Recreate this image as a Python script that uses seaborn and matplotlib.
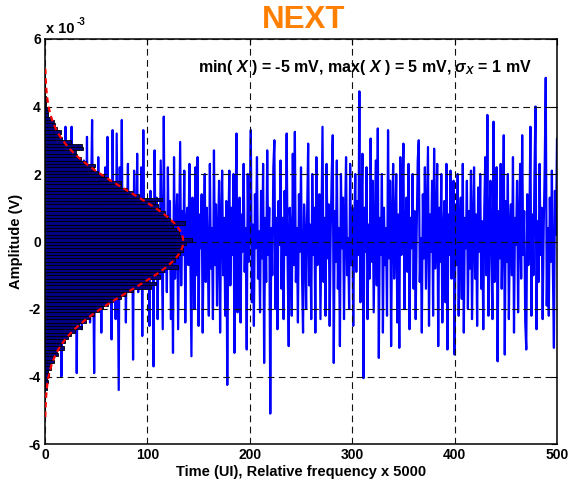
import numpy as np
import pandas as pd
import matplotlib
matplotlib.use("Agg")
import matplotlib.pyplot as plt
import seaborn as sns

# ---------------- data ----------------
# Noise signal, in mV, one value per UI (500 samples)
signal_mv = [
    0.4, -1.2, 2.3, -0.5, 0.9, -2.6, 0.7, 1.3, -0.8, 2.4,
    -0.2, -2.2, 1.1, 0.3, 2.6, -4.0, 0.8, -1.0, 0.5, 3.4,
    -1.2, 0.4, -2.8, 1.4, -0.6, 3.4, -0.9, 0.6, -2.3, 1.2,
    -3.9, 0.2, 2.2, -0.7, 1.0, -2.6, 0.4, 2.4, -1.4, -0.1,
    3.1, -1.1, 0.6, -2.4, 1.4, 3.6, -0.5, -3.9, 0.9, 0.1,
    -0.9, 2.5, -0.4, 0.7, -2.7, 0.3, 1.5, -1.3, 2.2, -0.6,
    3.1, -1.6, 0.5, 1.2, -2.9, 3.3, -0.3, 0.9, -2.3, 3.2,
    -0.7, -4.4, 2.2, -0.4, 3.6, -1.4, 0.2, 1.0, -2.4, 0.6,
    2.3, -1.0, 0.4, -0.1, 1.3, -3.5, 2.1, 0.2, -1.2, 2.6,
    -1.5, 0.8, -0.5, 2.2, -2.8, 3.3, -0.8, 0.6, -1.4, 1.0,
    0.1, -2.5, 1.5, -0.7, 1.1, -3.7, 2.7, -0.3, 1.3, -2.3,
    0.7, -1.0, 2.4, -0.1, -2.6, 3.7, -0.9, 0.7, -1.5, 2.2,
    -0.4, 1.2, -2.3, 0.3, -3.3, 2.5, -1.1, 0.5, 1.4, -2.6,
    0.2, 2.95, -1.3, 0.9, -0.4, 2.1, -2.4, 0.6, 1.0, -0.7,
    2.3, -0.6, -3.4, 1.3, 0.1, -2.0, 2.2, -1.0, 2.5, -2.5,
    0.8, -0.2, 1.4, -2.7, 0.4, 2.0, -1.2, 1.0, -0.5, -2.2,
    2.3, -0.8, 0.4, -2.3, 2.7, -0.7, 1.1, -1.9, 0.2, 1.8,
    -2.7, 0.6, 2.1, -1.0, 0.7, -2.2, 1.2, -4.25, 0.3, 2.1,
    -1.3, 1.0, -0.4, 2.0, -3.3, 0.7, 3.2, -2.1, 0.1, 1.3,
    -2.4, 0.8, -0.3, 2.3, -0.9, 0.4, -3.2, 2.0, -0.6, 1.1,
    3.3, -1.8, 0.5, -2.5, 1.4, -0.2, 2.5, -1.1, 0.3, -2.1,
    1.5, -0.5, 2.3, -3.6, 0.7, -1.2, 2.7, -0.4, 1.0, -5.1,
    0.4, -1.0, 2.2, 3.0, -2.0, 0.7, -2.6, 1.2, -0.1, 2.4,
    -1.4, 0.7, -2.3, 1.5, -0.4, 3.2, -0.8, -3.1, 1.0, 0.2,
    -2.2, 2.6, -0.7, 3.25, -1.2, 0.4, -2.4, 1.4, -0.3, 2.2,
    -1.0, -2.7, 1.1, 0.2, -2.0, 0.8, 2.9, -1.3, 0.5, -2.3,
    2.0, -0.4, 1.0, -2.7, 2.5, -0.7, 0.2, 1.4, -2.3, 0.6,
    3.4, -1.2, 0.7, -2.2, 2.3, -0.5, 1.1, -2.5, 0.3, 2.0,
    3.15, -3.6, 0.9, -0.6, 2.4, -1.4, 0.4, -3.1, 2.0, -0.2,
    1.3, -2.3, 0.6, 2.5, -1.0, 0.1, -2.0, 2.3, -0.7, 1.0,
    -2.5, 0.4, 2.0, -0.9, 1.2, -0.4, 4.45, -1.8, 0.7, 2.6,
    -4.05, 1.0, -0.3, 2.2, -2.3, 0.5, -1.1, 3.05, -0.6, 1.8,
    -2.1, 0.2, 2.4, -1.3, 3.35, -3.45, 0.7, -0.4, 2.0, -2.7,
    1.0, -0.7, 0.4, -2.2, 3.3, -0.5, 1.8, -3.1, 0.6, 2.3,
    -1.1, 0.2, 2.0, -2.4, 0.8, -3.15, 2.5, -0.4, 1.0, 2.9,
    -2.0, 0.3, 1.3, -0.9, 2.3, -2.6, 0.7, -0.2, 2.0, -1.4,
    0.9, -2.3, 0.4, 2.4, 3.0, -1.2, 0.1, -2.7, 1.4, -0.5,
    2.2, -1.4, 0.6, 2.8, -2.5, 0.8, -0.3, 1.8, -2.2, 2.75,
    -0.8, 0.4, 2.3, -3.1, 1.0, -0.6, 2.0, -2.4, 0.2, 1.2,
    -1.8, 2.3, -3.2, 0.8, -0.4, 2.1, -1.1, 0.5, 1.8, -3.35,
    1.1, -0.7, 2.0, -2.2, 0.3, 1.3, -1.7, 2.3, -2.7, 0.7,
    -0.2, 1.8, -2.0, 0.9, -0.8, 2.1, -2.3, 0.4, 2.2, -1.1,
    0.8, -2.5, 1.6, -0.3, 2.0, -1.4, 0.6, -2.6, 1.0, 2.5,
    -1.0, 3.75, -2.2, 0.4, 1.8, -0.7, -2.3, 3.55, -1.2, 0.7,
    2.2, -3.55, 0.9, -0.5, 2.3, -1.4, 0.3, 3.15, -3.35, 1.2,
    -0.6, 2.0, -2.3, 0.4, 1.1, -1.0, 2.5, -2.7, 0.7, -0.1,
    1.8, -2.1, 0.5, 2.3, -1.1, 3.15, -0.4, 0.9, -2.4, -3.2,
    1.4, -0.7, 0.3, 3.4, -2.2, 0.8, -1.0, 2.0, 4.0, -2.6,
    0.6, -1.2, 2.3, -0.4, 1.0, -2.3, 0.4, 2.2, 4.85, -1.9,
    0.4, -2.2, 1.3, -0.6, 2.1, -0.9, -3.15, 1.5, 0.2, 3.05,
]

# Histogram (relative frequency x 5000), bins of 0.1 mV from -5 to 5 mV
hist_edges_mv = [round(-5.0 + 0.1 * k, 1) for k in range(101)]
hist_heights = [
    0, 0, 0, 0, 1, 0, 2, 1, 3, 2,
    4, 3, 6, 5, 9, 8, 13, 12, 19, 16,
    20, 22, 25, 29, 36, 33, 40, 44, 48, 53,
    57, 62, 66, 74, 79, 86, 104, 108, 101, 112,
    110, 116, 130, 124, 127, 130, 132, 135, 133, 138,
    144, 132, 131, 128, 125, 137, 122, 120, 117, 112,
    110, 107, 114, 92, 86, 80, 74, 74, 62, 58,
    52, 48, 49, 40, 35, 31, 30, 37, 36, 25,
    17, 15, 16, 12, 10, 9, 5, 3, 3, 2,
    1, 1, 1, 0, 0, 0, 0, 0, 0, 0,
]

# Gaussian fit drawn over the histogram
fit_peak = 135.0
fit_sigma_mv = 1.48
fit_range_mv = 5.2

x_ticks = [0, 100, 200, 300, 400, 500]
y_ticks_mv = [-6, -4, -2, 0, 2, 4, 6]

title_text = "NEXT"
x_label = "Time (UI), Relative frequency x 5000"
y_label = "Amplitude (V)"
note_text = r"min( $X$ ) = -5 mV, max( $X$ ) = 5 mV, $\sigma_X$ = 1 mV"

# ---------------- style ----------------
sns.set_style("white")
plt.rcParams["font.family"] = ["Liberation Sans", "DejaVu Sans"]
plt.rcParams["font.weight"] = "bold"
plt.rcParams["text.color"] = "black"
plt.rcParams["axes.labelcolor"] = "black"
plt.rcParams["xtick.color"] = "black"
plt.rcParams["ytick.color"] = "black"
plt.rcParams["mathtext.fontset"] = "custom"
plt.rcParams["mathtext.rm"] = "Liberation Sans:bold"
plt.rcParams["mathtext.bf"] = "Liberation Sans:bold"
plt.rcParams["mathtext.it"] = "Liberation Sans:italic:bold"
plt.rcParams["mathtext.sf"] = "Liberation Sans:bold"

W, H = 571, 484
fig = plt.figure(figsize=(W / 100, H / 100), dpi=100)
ax_l, ax_r, ax_t, ax_b = 45, 557, 39, 444
ax = fig.add_axes([ax_l / W, 1 - ax_b / H, (ax_r - ax_l) / W, (ax_b - ax_t) / H])

# signal
df_sig = pd.DataFrame({"t": np.arange(1, len(signal_mv) + 1),
                       "v": np.array(signal_mv) * 1e-3})
sns.lineplot(data=df_sig, x="t", y="v", color="#0000FF", linewidth=1.6,
             ax=ax, zorder=2)

# histogram (horizontal)
edges = [e * 1e-3 for e in hist_edges_mv]
df_hist = pd.DataFrame({
    "c": [(hist_edges_mv[k] + hist_edges_mv[k + 1]) / 2 * 1e-3
          for k in range(len(hist_heights))],
    "w": [float(h) for h in hist_heights],
})
sns.histplot(data=df_hist, y="c", weights="w", bins=edges,
             color="#000080", edgecolor="black", linewidth=0.6, alpha=1.0,
             ax=ax, zorder=3)

# gaussian fit
y_fit = np.linspace(-fit_range_mv, fit_range_mv, 400)
x_fit = fit_peak * np.exp(-y_fit ** 2 / (2 * fit_sigma_mv ** 2))
df_fit = pd.DataFrame({"x": x_fit, "y": y_fit * 1e-3})
sns.lineplot(data=df_fit, x="x", y="y", sort=False, estimator=None,
             color="#FF0000", linewidth=1.6, linestyle=(0, (2.5, 1.8)),
             ax=ax, zorder=4)

# axes
ax.set_xlim(0, 500)
ax.set_ylim(-6e-3, 6e-3)
ax.set_xticks(x_ticks)
ax.set_xticklabels([str(v) for v in x_ticks])
ax.set_yticks([v * 1e-3 for v in y_ticks_mv])
ax.set_yticklabels([str(v) for v in y_ticks_mv])
ax.tick_params(axis="both", which="both", direction="in", length=4,
               width=0.8, labelsize=10, top=True, right=True, pad=3,
               colors="black", labelcolor="black")
for lab in ax.get_xticklabels() + ax.get_yticklabels():
    lab.set_fontweight("bold")
    lab.set_color("black")
for sp in ax.spines.values():
    sp.set_color("black")
    sp.set_linewidth(1.1)
    sp.set_visible(True)

ax.set_axisbelow(False)
ax.grid(True, color="#111111", linestyle=(0, (6, 4)), linewidth=0.8)

ax.set_xlabel(x_label, fontsize=10.5, fontweight="bold", labelpad=2, color="black")
ax.set_ylabel(y_label, fontsize=10.5, fontweight="bold", labelpad=4, color="black")

# exponent label
fig.text(46 / W, 1 - 33 / H, "x 10", fontsize=10.5, fontweight="bold",
         ha="left", va="baseline", color="black")
fig.text(77 / W, 1 - 25 / H, "-3", fontsize=7, fontweight="bold",
         ha="left", va="baseline", color="black")

# title
fig.text(304 / W, 1 - 28 / H, title_text, fontsize=22.5, fontweight="bold",
         color="#FF7F00", ha="center", va="baseline")

# annotation
ax.text((364.5 - ax_l) / (ax_r - ax_l), (ax_b - 72) / (ax_b - ax_t), note_text,
        transform=ax.transAxes, fontsize=11.5, fontweight="bold", color="black",
        ha="center", va="baseline", zorder=6)

fig.savefig("out.png", dpi=100)
